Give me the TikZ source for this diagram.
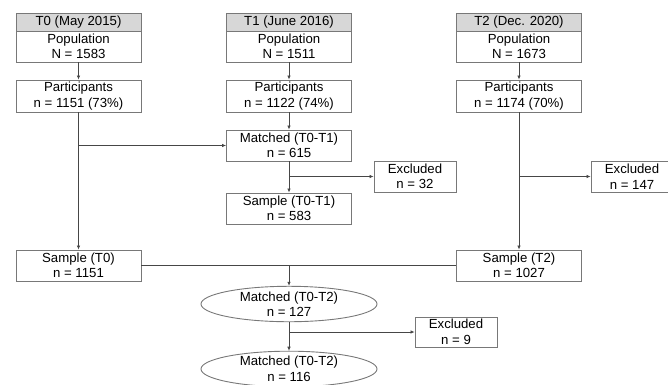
\documentclass[tikz,border=0pt]{standalone}
\usepackage{fontspec}
\setmainfont{Liberation Sans}
\usetikzlibrary{arrows.meta,shapes.geometric}
\definecolor{bordercol}{RGB}{120,120,120}
\definecolor{linecol}{RGB}{70,70,70}
\definecolor{headfill}{RGB}{215,215,215}
\tikzset{
  base/.style={draw=bordercol, line width=0.9pt, inner sep=0pt, align=center,
    font=\fontsize{13.2}{15.5}\selectfont, text=black},
  box/.style={base, rectangle, minimum width=125pt, minimum height=31pt},
  headbox/.style={base, rectangle, fill=headfill, minimum width=125pt, minimum height=18pt},
  exbox/.style={base, rectangle, minimum width=82pt, minimum height=31pt},
  ell/.style={base, ellipse, minimum width=176pt, minimum height=34pt},
  conn/.style={draw=linecol, line width=0.7pt},
  arr/.style={conn, -{Latex[length=4pt,width=3.5pt]}}
}
\begin{document}
\begin{tikzpicture}[x=1pt,y=1pt]
\useasboundingbox (0,0) rectangle (668,-384);
% T0
\node[headbox] (h0) at (78.5,-22) {T0 (May 2015)};
\node[box] (pop0) at (78.5,-46.5) {Population\\N = 1583};
\node[box, minimum height=32pt] (par0) at (78.5,-96) {Participants\\n = 1151 (73\%)};
\node[box] (s0) at (78.5,-265.5) {Sample (T0)\\n = 1151};
% T1
\node[headbox] (h1) at (289,-22) {T1 (June 2016)};
\node[box] (pop1) at (289,-46.5) {Population\\N = 1511};
\node[box, minimum height=32pt] (par1) at (289,-96) {Participants\\n = 1122 (74\%)};
\node[box] (m01) at (289,-145.5) {Matched (T0-T1)\\n = 615};
\node[box] (s01) at (289,-208.5) {Sample (T0-T1)\\n = 583};
\node[exbox] (ex32) at (415,-176.5) {Excluded\\n = 32};
% T2
\node[headbox] (h2) at (519,-22) {T2 (Dec. 2020)};
\node[box] (pop2) at (519,-46.5) {Population\\N = 1673};
\node[box, minimum height=32pt] (par2) at (519,-96) {Participants\\n = 1174 (70\%)};
\node[exbox] (ex147) at (632,-176.5) {Excluded\\n = 147};
\node[box] (s2) at (519,-265.5) {Sample (T2)\\n = 1027};
% T0-T2
\node[ell] (m02) at (289,-304) {Matched (T0-T2)\\n = 127};
\node[exbox, minimum height=30pt] (ex9) at (456,-332) {Excluded\\n = 9};
\node[ell] (m02b) at (289,-369) {Matched (T0-T2)\\n = 116};
% connectors
\draw[arr] (pop0) -- (par0);
\draw[arr] (pop1) -- (par1);
\draw[arr] (pop2) -- (par2);
\draw[arr] (par0) -- (s0);
\draw[arr] (par0.south |- m01.west) -- (m01.west);
\draw[arr] (par1) -- (m01);
\draw[arr] (m01) -- (s01);
\draw[arr] (m01.south |- ex32.west) -- (ex32.west);
\draw[arr] (par2) -- (s2);
\draw[arr] (par2.south |- ex147.west) -- (ex147.west);
\draw[conn] (s0.east) -- (s2.west);
\draw[arr] (m02.north |- s0.east) -- (m02.north);
\draw[arr] (m02) -- (m02b);
\draw[arr] (m02.south |- ex9.west) -- (ex9.west);
\end{tikzpicture}
\end{document}
